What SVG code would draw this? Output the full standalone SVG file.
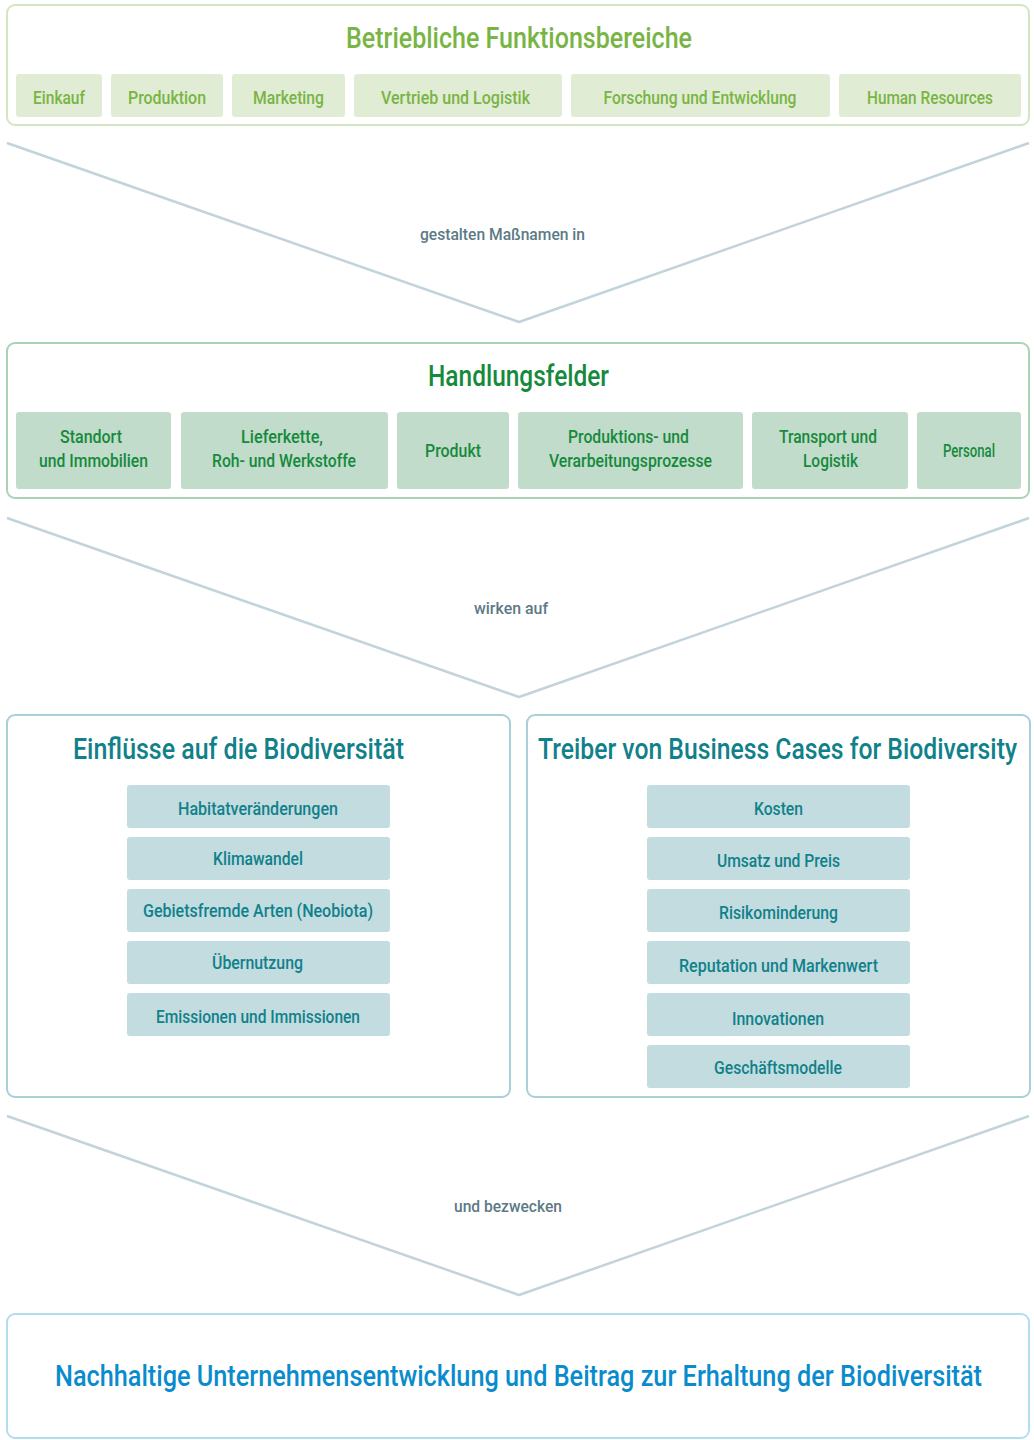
<svg xmlns="http://www.w3.org/2000/svg" width="1034" height="1440" viewBox="0 0 1034 1440">
  <style>
    text { font-family: Roboto, "Liberation Sans", sans-serif; text-anchor: middle; font-weight: 500; }
    .frame { fill: #ffffff; stroke-width: 2; }
    .chip { stroke: none; }
    .title { font-size: 29px; }
    .lbl { font-size: 19px; }
    .g1 .frame { stroke: #d3e6c2; }
    .g1 .chip { fill: #e1ecd4; }
    .g1 text { fill: #78b544; }
    .g2 .frame { stroke: #a9d3b7; }
    .g2 .chip { fill: #c2dccb; }
    .g2 text { fill: #168a3c; }
    .g3 .frame { stroke: #a9cfd9; }
    .g3 .chip { fill: #c3dce0; }
    .g3 text { fill: #10818a; }
    .g4 .frame { stroke: #b4dcf1; }
    .g4 text { fill: #0a8ccc; }
    .chev { fill: none; stroke: #c3d3dc; stroke-width: 2.5; stroke-linejoin: round; }
    .clabel { fill: #5c7a86; font-size: 17px; }
  </style>

  <!-- Betriebliche Funktionsbereiche -->
  <g id="funktionsbereiche" class="g1">
    <rect class="frame" x="7" y="5" width="1022" height="120" rx="8"/>
    <text class="title" x="519" y="48" textLength="346" lengthAdjust="spacingAndGlyphs">Betriebliche Funktionsbereiche</text>
    <g id="fb-einkauf"><rect class="chip" x="16" y="74" width="86" height="43" rx="3"/><text class="lbl" x="59" y="104" textLength="52" lengthAdjust="spacingAndGlyphs">Einkauf</text></g>
    <g id="fb-produktion"><rect class="chip" x="111" y="74" width="112" height="43" rx="3"/><text class="lbl" x="167" y="104" textLength="78" lengthAdjust="spacingAndGlyphs">Produktion</text></g>
    <g id="fb-marketing"><rect class="chip" x="232" y="74" width="113" height="43" rx="3"/><text class="lbl" x="288.5" y="104" textLength="71" lengthAdjust="spacingAndGlyphs">Marketing</text></g>
    <g id="fb-vertrieb"><rect class="chip" x="354" y="74" width="208" height="43" rx="3"/><text class="lbl" x="455.5" y="104" textLength="149" lengthAdjust="spacingAndGlyphs">Vertrieb und Logistik</text></g>
    <g id="fb-forschung"><rect class="chip" x="571" y="74" width="259" height="43" rx="3"/><text class="lbl" x="700" y="104" textLength="193" lengthAdjust="spacingAndGlyphs">Forschung und Entwicklung</text></g>
    <g id="fb-hr"><rect class="chip" x="839" y="74" width="182" height="43" rx="3"/><text class="lbl" x="930" y="104" textLength="126" lengthAdjust="spacingAndGlyphs">Human Resources</text></g>
  </g>

  <!-- Handlungsfelder -->
  <g id="handlungsfelder" class="g2">
    <rect class="frame" x="7" y="343" width="1022" height="155" rx="8"/>
    <text class="title" x="518.5" y="386" textLength="181" lengthAdjust="spacingAndGlyphs">Handlungsfelder</text>
    <g id="hf-standort"><rect class="chip" x="16" y="412" width="155" height="77" rx="3"/><text class="lbl" x="91" y="443" textLength="62" lengthAdjust="spacingAndGlyphs">Standort</text><text class="lbl" x="93.5" y="467" textLength="109" lengthAdjust="spacingAndGlyphs">und Immobilien</text></g>
    <g id="hf-lieferkette"><rect class="chip" x="181" y="412" width="207" height="77" rx="3"/><text class="lbl" x="282" y="443" textLength="82" lengthAdjust="spacingAndGlyphs">Lieferkette,</text><text class="lbl" x="284" y="467" textLength="144" lengthAdjust="spacingAndGlyphs">Roh- und Werkstoffe</text></g>
    <g id="hf-produkt"><rect class="chip" x="397" y="412" width="112" height="77" rx="3"/><text class="lbl" x="453" y="457" textLength="56" lengthAdjust="spacingAndGlyphs">Produkt</text></g>
    <g id="hf-prozesse"><rect class="chip" x="518" y="412" width="225" height="77" rx="3"/><text class="lbl" x="628.5" y="443" textLength="121" lengthAdjust="spacingAndGlyphs">Produktions- und</text><text class="lbl" x="630.5" y="467" textLength="163" lengthAdjust="spacingAndGlyphs">Verarbeitungsprozesse</text></g>
    <g id="hf-transport"><rect class="chip" x="752" y="412" width="156" height="77" rx="3"/><text class="lbl" x="828" y="443" textLength="98" lengthAdjust="spacingAndGlyphs">Transport und</text><text class="lbl" x="830.5" y="467" textLength="55" lengthAdjust="spacingAndGlyphs">Logistik</text></g>
    <g id="hf-personal"><rect class="chip" x="917" y="412" width="104" height="77" rx="3"/><text class="lbl" x="969" y="457" textLength="52" lengthAdjust="spacingAndGlyphs">Personal</text></g>
  </g>

  <!-- Einflüsse auf die Biodiversität -->
  <g id="einfluesse" class="g3">
    <rect class="frame" x="7" y="715" width="503" height="382" rx="8"/>
    <text class="title" x="238.5" y="759" textLength="331" lengthAdjust="spacingAndGlyphs">Einflüsse auf die Biodiversität</text>
    <g id="ef-habitat"><rect class="chip" x="127" y="785" width="263" height="43" rx="3"/><text class="lbl" x="258" y="815" textLength="160" lengthAdjust="spacingAndGlyphs">Habitatveränderungen</text></g>
    <g id="ef-klima"><rect class="chip" x="127" y="837" width="263" height="43" rx="3"/><text class="lbl" x="258" y="865" textLength="90" lengthAdjust="spacingAndGlyphs">Klimawandel</text></g>
    <g id="ef-neobiota"><rect class="chip" x="127" y="889" width="263" height="43" rx="3"/><text class="lbl" x="258" y="917" textLength="230" lengthAdjust="spacingAndGlyphs">Gebietsfremde Arten (Neobiota)</text></g>
    <g id="ef-uebernutzung"><rect class="chip" x="127" y="941" width="263" height="43" rx="3"/><text class="lbl" x="257.5" y="969" textLength="91" lengthAdjust="spacingAndGlyphs">Übernutzung</text></g>
    <g id="ef-emissionen"><rect class="chip" x="127" y="993" width="263" height="43" rx="3"/><text class="lbl" x="258" y="1023" textLength="204" lengthAdjust="spacingAndGlyphs">Emissionen und Immissionen</text></g>
  </g>

  <!-- Treiber von Business Cases for Biodiversity -->
  <g id="treiber" class="g3">
    <rect class="frame" x="527" y="715" width="503" height="382" rx="8"/>
    <text class="title" x="777.5" y="759" textLength="479" lengthAdjust="spacingAndGlyphs">Treiber von Business Cases for Biodiversity</text>
    <g id="tr-kosten"><rect class="chip" x="647" y="785" width="263" height="43" rx="3"/><text class="lbl" x="778.5" y="815" textLength="49" lengthAdjust="spacingAndGlyphs">Kosten</text></g>
    <g id="tr-umsatz"><rect class="chip" x="647" y="837" width="263" height="43" rx="3"/><text class="lbl" x="778.5" y="867" textLength="123" lengthAdjust="spacingAndGlyphs">Umsatz und Preis</text></g>
    <g id="tr-risiko"><rect class="chip" x="647" y="889" width="263" height="43" rx="3"/><text class="lbl" x="778.5" y="919" textLength="119" lengthAdjust="spacingAndGlyphs">Risikominderung</text></g>
    <g id="tr-reputation"><rect class="chip" x="647" y="941" width="263" height="43" rx="3"/><text class="lbl" x="778.5" y="972" textLength="199" lengthAdjust="spacingAndGlyphs">Reputation und Markenwert</text></g>
    <g id="tr-innovationen"><rect class="chip" x="647" y="993" width="263" height="43" rx="3"/><text class="lbl" x="778" y="1025" textLength="92" lengthAdjust="spacingAndGlyphs">Innovationen</text></g>
    <g id="tr-geschaeft"><rect class="chip" x="647" y="1045" width="263" height="43" rx="3"/><text class="lbl" x="778" y="1074" textLength="128" lengthAdjust="spacingAndGlyphs">Geschäftsmodelle</text></g>
  </g>

  <!-- Ziel -->
  <g id="ziel" class="g4">
    <rect class="frame" x="7" y="1314" width="1022" height="124" rx="8"/>
    <text class="title" x="518.5" y="1386" style="font-size:30px" textLength="927" lengthAdjust="spacingAndGlyphs">Nachhaltige Unternehmensentwicklung und Beitrag zur Erhaltung der Biodiversität</text>
  </g>

  <!-- Verbindende Pfeilformen mit Beschriftung -->
  <g id="connectors">
    <polyline class="chev" points="7,143 519,322 1029,143"/>
    <text class="clabel" x="502.5" y="240" textLength="165" lengthAdjust="spacingAndGlyphs">gestalten Maßnamen in</text>
    <polyline class="chev" points="7,518 519,697 1029,518"/>
    <text class="clabel" x="511" y="614" textLength="74" lengthAdjust="spacingAndGlyphs">wirken auf</text>
    <polyline class="chev" points="7,1116 519,1295 1029,1116"/>
    <text class="clabel" x="508" y="1212" textLength="108" lengthAdjust="spacingAndGlyphs">und bezwecken</text>
  </g>
</svg>
